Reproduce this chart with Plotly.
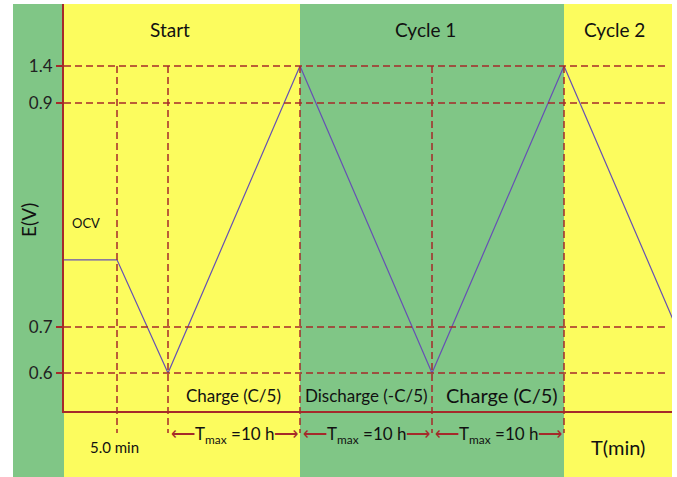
import numpy as np
import plotly.graph_objects as go

# ---- data (schematic) ----
phase_names = ["Start", "Cycle 1", "Cycle 2"]
phase_bounds = [0, 236, 500, 608]          # schematic time units
phase_colors = ["#FCFC5E", "#80C686", "#FCFC5E"]

times = [0, 53, 104, 236, 368, 500, 632]    # schematic time points
volts = [0.76, 0.76, 0.6, 1.4, 0.6, 1.4, 0.6]  # E(V) at those points

tick_volts = [0.6, 0.7, 0.9, 1.4]
tick_labels = ["0.6", "0.7", "0.9", "1.4"]
# broken (schematic) voltage scale: voltage -> axis height
scale_v = [0.6, 0.7, 0.9, 1.4]
scale_h = [38, 84, 308, 345]

segment_labels = ["Charge (C/5)", "Discharge (-C/5)", "Charge (C/5)"]

XMAX = 608
YMAX = 407
RED = "#A52A2A"
LINE = "#6650B4"
TXT = "#111111"
FONT = "Lato, Carlito, Calibri, sans-serif"


def h(v):
    return np.interp(v, scale_v, scale_h)


def xp(u):
    return u / XMAX


def yp(v):
    return v / YMAX


fig = go.Figure()

shapes = []
# left green strip outside axis
shapes.append(dict(type="rect", xref="paper", yref="paper", x0=xp(-51), x1=0,
                   y0=yp(-66), y1=1, fillcolor="#80C686", line_width=0, layer="below"))
for i in range(3):
    shapes.append(dict(type="rect", xref="paper", yref="paper",
                       x0=xp(phase_bounds[i]), x1=xp(phase_bounds[i + 1]),
                       y0=yp(-66), y1=1, fillcolor=phase_colors[i], line_width=0, layer="below"))

# horizontal dashed lines
for v in tick_volts:
    hv = float(h(v))
    shapes.append(dict(type="line", xref="x", yref="y", x0=0, x1=601, y0=hv, y1=hv,
                       line=dict(color=RED, width=1.5, dash="7px,4px")))

# vertical dashed lines at turning points
for t in times[1:6]:
    shapes.append(dict(type="line", xref="paper", yref="paper", x0=xp(t), x1=xp(t),
                       y0=yp(float(h(1.4))), y1=yp(-22),
                       line=dict(color=RED, width=1.5, dash="7px,4px")))

fig.add_trace(go.Scatter(x=times, y=[float(h(v)) for v in volts], mode="lines",
                         line=dict(color=LINE, width=1.2), showlegend=False, hoverinfo="skip"))

ann = []


def add_text(text, xu, yu, size, angle=0):
    ann.append(dict(text=text, x=xp(xu), y=yp(yu), xref="paper", yref="paper",
                    xanchor="center", yanchor="middle", textangle=angle,
                    showarrow=False, font=dict(size=size, color=TXT, family=FONT)))


phase_label_x = [106, 361, 550]
for name, xu in zip(phase_names, phase_label_x):
    add_text(name, xu, 382, 19)

add_text("E(V)", -35, 191, 19, -90)
add_text("OCV", 22, 188, 13)
add_text("5.0 min", 50, -36, 15)
add_text("T(min)", 554, -36, 20)

seg_x = [169, 302, 438]
seg_size = [17, 17, 20]
for lab, xu, fs in zip(segment_labels, seg_x, seg_size):
    add_text(lab, xu, 16, fs)

arrow_txt = ("<span style='color:%s'>⟵</span>T<sub>max</sub> =10 h"
             "<span style='color:%s'>⟶</span>") % (RED, RED)
for i in range(3):
    xc = (times[2 + i] + times[3 + i]) / 2
    add_text(arrow_txt, xc, -24, 17)

fig.update_layout(
    width=677, height=477,
    margin=dict(l=64, r=5, t=4, b=66),
    paper_bgcolor="white", plot_bgcolor="rgba(0,0,0,0)",
    shapes=shapes, annotations=ann, showlegend=False,
    xaxis=dict(range=[0, XMAX], showgrid=False, zeroline=False, showticklabels=False,
               ticks="", showline=True, linecolor=RED, linewidth=2, fixedrange=True),
    yaxis=dict(range=[0, YMAX], showgrid=False, zeroline=False,
               tickvals=[float(h(v)) for v in tick_volts], ticktext=tick_labels,
               ticks="outside", ticklen=6, tickcolor=RED, tickwidth=1.5,
               tickfont=dict(size=17, color="#222222", family=FONT),
               showline=True, linecolor=RED, linewidth=2, fixedrange=True),
)

fig.write_html("out.html", config={"displayModeBar": False},
               post_script="document.body.style.margin='0';")
